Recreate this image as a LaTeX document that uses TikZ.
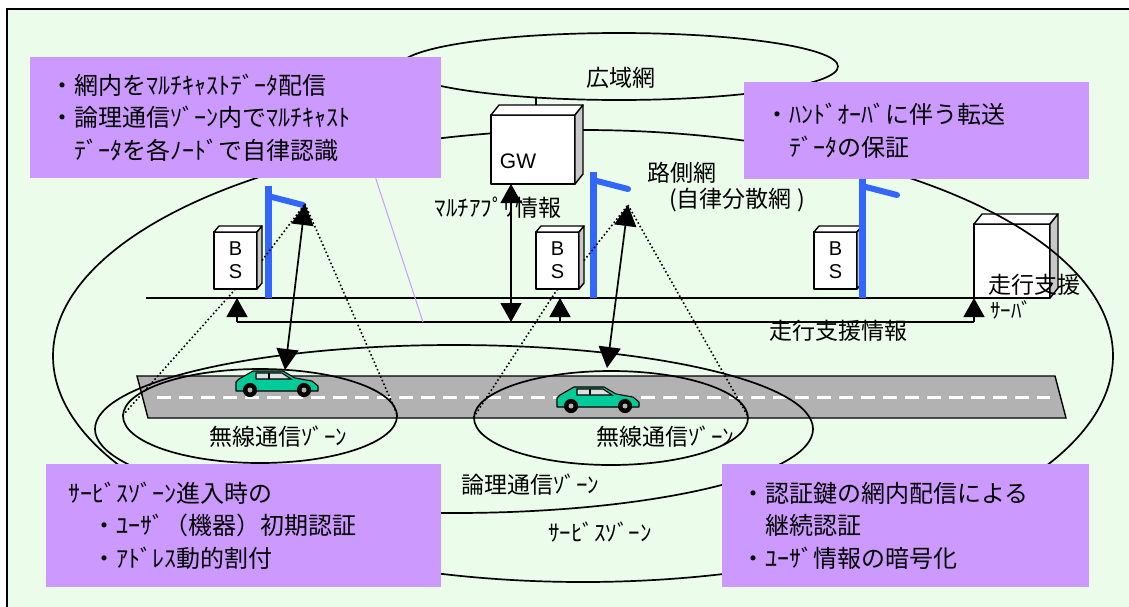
\documentclass[tikz,border=0pt]{standalone}
\usepackage{fontspec}
\setmainfont{Noto Sans CJK JP}
\newfontfamily\latinfont{Liberation Sans}
\usetikzlibrary{
    arrows.meta,
    shapes.geometric,
    calc
}

\definecolor{bggreen}{HTML}{EBFDEA}
\definecolor{notepurple}{HTML}{CC99FF}
\definecolor{poleblue}{HTML}{3366FF}
\definecolor{roadgray}{HTML}{B2B2B2}
\definecolor{carteal}{HTML}{00CC99}
\definecolor{sidegray}{HTML}{C8C8C8}

% top and right faces of a box node
\newcommand{\cubefaces}[3]{%
    \draw[cubeline, fill=white] (#1.north west) -- ++(#2,#3) -- ($(#1.north east)+(#2,#3)$) -- (#1.north east) -- cycle;
    \draw[cubeline, fill=sidegray] (#1.north east) -- ($(#1.north east)+(#2,#3)$) -- ($(#1.south east)+(#2,#3)$) -- (#1.south east) -- cycle;
}

\tikzset{
    zone/.style={draw, ellipse, line width=1.7pt, inner sep=0pt},
    cubeline/.style={draw, line width=1.4pt, line join=round},
    cube/.style={cubeline, fill=white, inner sep=0pt, outer sep=0pt},
    note/.style={fill=notepurple, inner ysep=0pt, align=left, anchor=north west, font=\fontsize{24}{32.5}\selectfont},
    lbl/.style={font=\fontsize{23}{23}\selectfont, inner sep=0pt},
    bus/.style={line width=1.3pt},
    busarrow/.style={line width=1.3pt, -{Triangle[width=21pt,length=19pt]}},
    biarrow/.style={line width=1.3pt, {Triangle[width=21pt,length=19pt]}-{Triangle[width=21pt,length=19pt]}},
    radiolink/.style={line width=1.7pt, {Triangle[width=22pt,length=21pt]}-{Triangle[width=22pt,length=21pt]}},
    beam/.style={line width=1.6pt, dash pattern=on 1.6pt off 2.4pt},
    pole/.style={poleblue, line width=7pt},
    flag/.style={poleblue, line width=6pt, line cap=round},
    car/.pic={
        \draw[line width=1.1pt, fill=carteal, line join=round] (0,22) -- (0,13) -- (3,10) -- (17,2) -- (47,2) -- (59,9) -- (76,12) -- (82,17) -- (82,22) -- cycle;
        \draw[line width=1.1pt, fill=gray!25] (20,4) -- (46,4) -- (55,10) -- (20,10) -- cycle;
        \draw[line width=1.6pt] (33,4) -- (33,10);
        \foreach \wx in {14,68} {
            \draw[line width=1.1pt, fill=black] (\wx,21) circle[radius=6.5];
            \fill[gray!60] (\wx,21) circle[radius=2.5];
        }
    }
}

\begin{document}
\begin{tikzpicture}[x=1pt, y=-1pt]
    \useasboundingbox (0,0) rectangle (1129,606);
    \clip (0,0) rectangle (1129,606);
    \fill[white] (0,0) rectangle (1129,606);
    \draw[line width=2pt, fill=bggreen] (7,9) rectangle (1140,620);

    % road
    \draw[line width=1.4pt, fill=roadgray] (137,376) -- (1055,376) -- (1066,418) -- (148,418) -- cycle;
    \draw[white, line width=3pt, dash pattern=on 14pt off 8pt] (157,397) -- (1050,397);

    % server
    \node[cube, minimum width=76, minimum height=74] (srv) at (1012,261) {};
    \cubefaces{srv}{8}{-10}

    % zones
    \node[zone, minimum width=438, minimum height=67] (wan) at (619,66.5) {};
    \node[zone, minimum width=1060, minimum height=452] (svc) at (583,356) {};
    \node[zone, minimum width=718, minimum height=168] (logic) at (454,429) {};
    \node[zone, minimum width=274, minimum height=94] (radio1) at (260,416) {};
    \node[zone, minimum width=274, minimum height=94] (radio2) at (611,418) {};

    % gateway
    \coordinate (wanfoot) at (536,97.5);
    \draw[bus] (wanfoot) -- ++(0,9);
    \node[cube, minimum width=84, minimum height=69] (gw) at (533,149.5) {};
    \cubefaces{gw}{8}{-10}
    \node[lbl, font=\latinfont\fontsize{21}{21}\selectfont] (gwname) at (518,161) {GW};

    % base stations
    \foreach \n/\x in {1/235.5, 2/557.5, 3/835.5} {
        \node[cube, minimum width=43, minimum height=57, align=center, font=\latinfont\fontsize{20}{23}\selectfont] (bs\n) at (\x,260.5) {B\\S};
        \cubefaces{bs\n}{5}{-6}
    }

    % bus lines
    \coordinate (busw) at (146,298);
    \coordinate (feedw) at (237,322);
    \coordinate (gwfoot) at (511,322);
    \draw[bus] (busw) -- (srv.south west);
    \draw[bus] (feedw) -- (srv.south west |- feedw);
    \draw[busarrow] (feedw) -- (feedw |- busw);
    \draw[busarrow] (srv.south west |- feedw) -- (srv.south west);
    \draw[busarrow] ([xshift=2.5pt]bs2.south |- feedw) -- ([xshift=2.5pt]bs2.south |- busw);
    \draw[biarrow] (gw.south -| gwfoot) -- (gwfoot);

    % poles
    \foreach \n/\x/\top/\ft in {1/268/186/196, 2/593/172/180, 3/862/178/186} {
        \draw[pole] (\x,298) -- (\x,\top);
        \draw[flag] (\x,\ft) -- ++(35,9);
    }
    \coordinate (tip1) at (305,204);
    \coordinate (tip2) at (628,205);
    \coordinate (roof1) at (285,370);
    \coordinate (roof2) at (607,368);

    % coverage
    \draw[beam] ([xshift=5pt]bs1.east) -- (tip1);
    \draw[beam] (tip1) -- (radio1.east);
    \draw[beam] (bs1.south) -- (radio1.west);
    \draw[beam] ([xshift=5pt]bs2.east) -- (tip2);
    \draw[beam] (tip2) -- (radio2.east);
    \draw[beam] (bs2.south) -- (radio2.west);

    % cars
    \pic (car1) at (236,369) {car};
    \pic (car2) at (557,385) {car};
    \draw[radiolink] (tip1) -- (roof1);
    \draw[radiolink] (tip2) -- (roof2);

    % labels
    \node[lbl] (wanname) at (621,78) {広域網};
    \node[lbl] (rsname) at (682,173) {路側網};
    \node[lbl] (rsnote) at (737,200) {(自律分散網 )};
    \node[lbl] (appinfo) at (498,208) {ﾏﾙﾁｱﾌﾟﾘ情報};
    \node[lbl] (drvinfo) at (838,331) {走行支援情報};
    \node[lbl, anchor=west] (srvname) at (988,285) {走行支援};
    \node[lbl, anchor=west, font=\fontsize{21}{21}\selectfont] (srvsub) at (990,310) {ｻｰﾊﾞ};
    \node[lbl] (radio1name) at (278,437) {無線通信ｿﾞｰﾝ};
    \node[lbl] (radio2name) at (665,437) {無線通信ｿﾞｰﾝ};
    \node[lbl] (logicname) at (530,485) {論理通信ｿﾞｰﾝ};
    \node[lbl] (svcname) at (600,532) {ｻｰﾋﾞｽｿﾞｰﾝ};

    % notes
    \node[note, minimum width=411, minimum height=121, text width=371, inner xsep=20] (multicast) at (30,57)
        {・網内をﾏﾙﾁｷｬｽﾄﾃﾞｰﾀ配信\\・論理通信ｿﾞｰﾝ内でﾏﾙﾁｷｬｽﾄ\\\phantom{・}ﾃﾞｰﾀを各ﾉｰﾄﾞで自律認識};
    \node[note, minimum width=345, minimum height=97, text width=303, inner xsep=21] (handover) at (744,82)
        {・ﾊﾝﾄﾞｵｰﾊﾞに伴う転送\\\phantom{・}ﾃﾞｰﾀの保証};
    \node[note, minimum width=395, minimum height=123, text width=351, inner xsep=22] (entry) at (46,464)
        {ｻｰﾋﾞｽｿﾞｰﾝ進入時の\\\hspace*{1em}・ﾕｰｻﾞ（機器）初期認証\\\hspace*{1em}・ｱﾄﾞﾚｽ動的割付};
    \node[note, minimum width=367, minimum height=123, text width=329, inner xsep=19] (rekey) at (722,464)
        {・認証鍵の網内配信による\\\phantom{・}継続認証\\・ﾕｰｻﾞ情報の暗号化};
    \draw[notepurple, line width=1pt] ([xshift=140pt]multicast.south) -- (423,322);
\end{tikzpicture}
\end{document}
